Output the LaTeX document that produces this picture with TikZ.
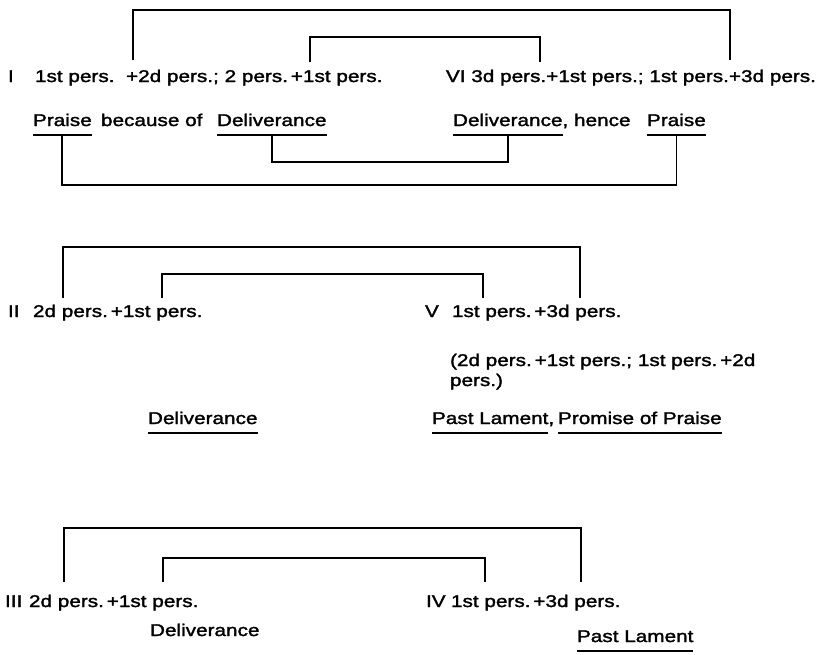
\documentclass[tikz,border=0pt]{standalone}
\usepackage{fontspec}
\newfontfamily\hvfont{Liberation Sans}[FakeStretch=1.22,FakeBold=1.8]
\newcommand\dtext{\hvfont\fontsize{17pt}{19pt}\selectfont}
\begin{document}
\begin{tikzpicture}[x=1pt,y=-1pt,
  txt/.style={inner sep=0pt,outer sep=0pt,anchor=base west,font=\dtext},
  brk/.style={line width=1.8pt,line cap=butt,line join=miter},
  uline/.style={line width=2.6pt}]
\useasboundingbox (0,0) rectangle (819,654);

% ---------------- Section I / VI ----------------
\node[txt] (numI) at (8,82) {I};
\node[txt] (lineI) at (35,82) {1st pers.~~+2d pers.; 2 pers.\,+1st pers.};
\node[txt,anchor=base east] (lineVI) at (816,82) {VI 3d pers.+1st pers.; 1st pers.+3d pers.};

\node[txt] (praiseI) at (33,126) {Praise};
\node[txt] (becI) at (101,126) {because of};
\node[txt] (delivI) at (217,126) {Deliverance};
\node[txt] (delivVI) at (453,126) {Deliverance};
\node[txt] (henceVI) at (delivVI.base east) {, hence};
\node[txt] (praiseVI) at (647,126) {Praise};

\foreach \n in {praiseI,delivI,delivVI,praiseVI}{
  \draw[uline] ([yshift=-9pt]\n.base west) -- ([yshift=-9pt]\n.base east);
  \coordinate (u\n) at ([yshift=-9pt]\n.base);
}

\coordinate (topIo) at (0,10);
\coordinate (topIi) at (0,37);
\coordinate (IoL) at (133,60);
\coordinate (IoR) at (730,60);
\coordinate (IiL) at (310,62);
\coordinate (IiR) at (540,62);
\draw[brk] (IoL) -- (IoL |- topIo) -| (IoR);
\draw[brk] (IiL) -- (IiL |- topIi) -| (IiR);

\coordinate (lowIi) at (0,162);
\coordinate (lowIo) at (0,185);
\draw[brk] (udelivI) -- (udelivI |- lowIi) -| (udelivVI);
\draw[brk] (upraiseI) -- (upraiseI |- lowIo) -| (upraiseVI);

% ---------------- Section II / V ----------------
\node[txt] (numII) at (8,317) {II};
\node[txt] (lineII) at (33,317) {2d pers.\,+1st pers.};
\node[txt] (numV) at (425,317) {V};
\node[txt] (lineV) at (452,317) {1st pers.\,+3d pers.};
\node[txt] (parV) at (450,366) {(2d pers.\,+1st pers.; 1st pers.\,+2d};
\node[txt] (parVb) at (450,386) {pers.)};

\node[txt] (delivII) at (148,424) {Deliverance};
\node[txt] (pastV) at (432,424) {Past Lament};
\node[txt] (commaV) at (pastV.base east) {,};
\node[txt] (promV) at (558,424) {Promise of Praise};
\foreach \n in {delivII,pastV,promV}{
  \draw[uline] ([yshift=-9pt]\n.base west) -- ([yshift=-9pt]\n.base east);
}

\coordinate (topIIo) at (0,247);
\coordinate (topIIi) at (0,274);
\coordinate (IIoL) at (63,298);
\coordinate (IIoR) at (580,298);
\coordinate (IIiL) at (162,298);
\coordinate (IIiR) at (483,298);
\draw[brk] (IIoL) -- (IIoL |- topIIo) -| (IIoR);
\draw[brk] (IIiL) -- (IIiL |- topIIi) -| (IIiR);

% ---------------- Section III / IV ----------------
\node[txt] (numIII) at (5,607) {III};
\node[txt] (lineIII) at (29,607) {2d pers.\,+1st pers.};
\node[txt] (numIV) at (426,607) {IV};
\node[txt] (lineIV) at (451,607) {1st pers.\,+3d pers.};

\node[txt] (delivIII) at (150,636) {Deliverance};
\node[txt] (pastIV) at (577,642) {Past Lament};
\draw[uline] ([yshift=-9pt]pastIV.base west) -- ([yshift=-9pt]pastIV.base east);

\coordinate (topIIIo) at (0,528);
\coordinate (topIIIi) at (0,558);
\coordinate (IIIoL) at (64,582);
\coordinate (IIIoR) at (581,582);
\coordinate (IIIiL) at (163,582);
\coordinate (IIIiR) at (485,582);
\draw[brk] (IIIoL) -- (IIIoL |- topIIIo) -| (IIIoR);
\draw[brk] (IIIiL) -- (IIIiL |- topIIIi) -| (IIIiR);
\end{tikzpicture}
\end{document}
